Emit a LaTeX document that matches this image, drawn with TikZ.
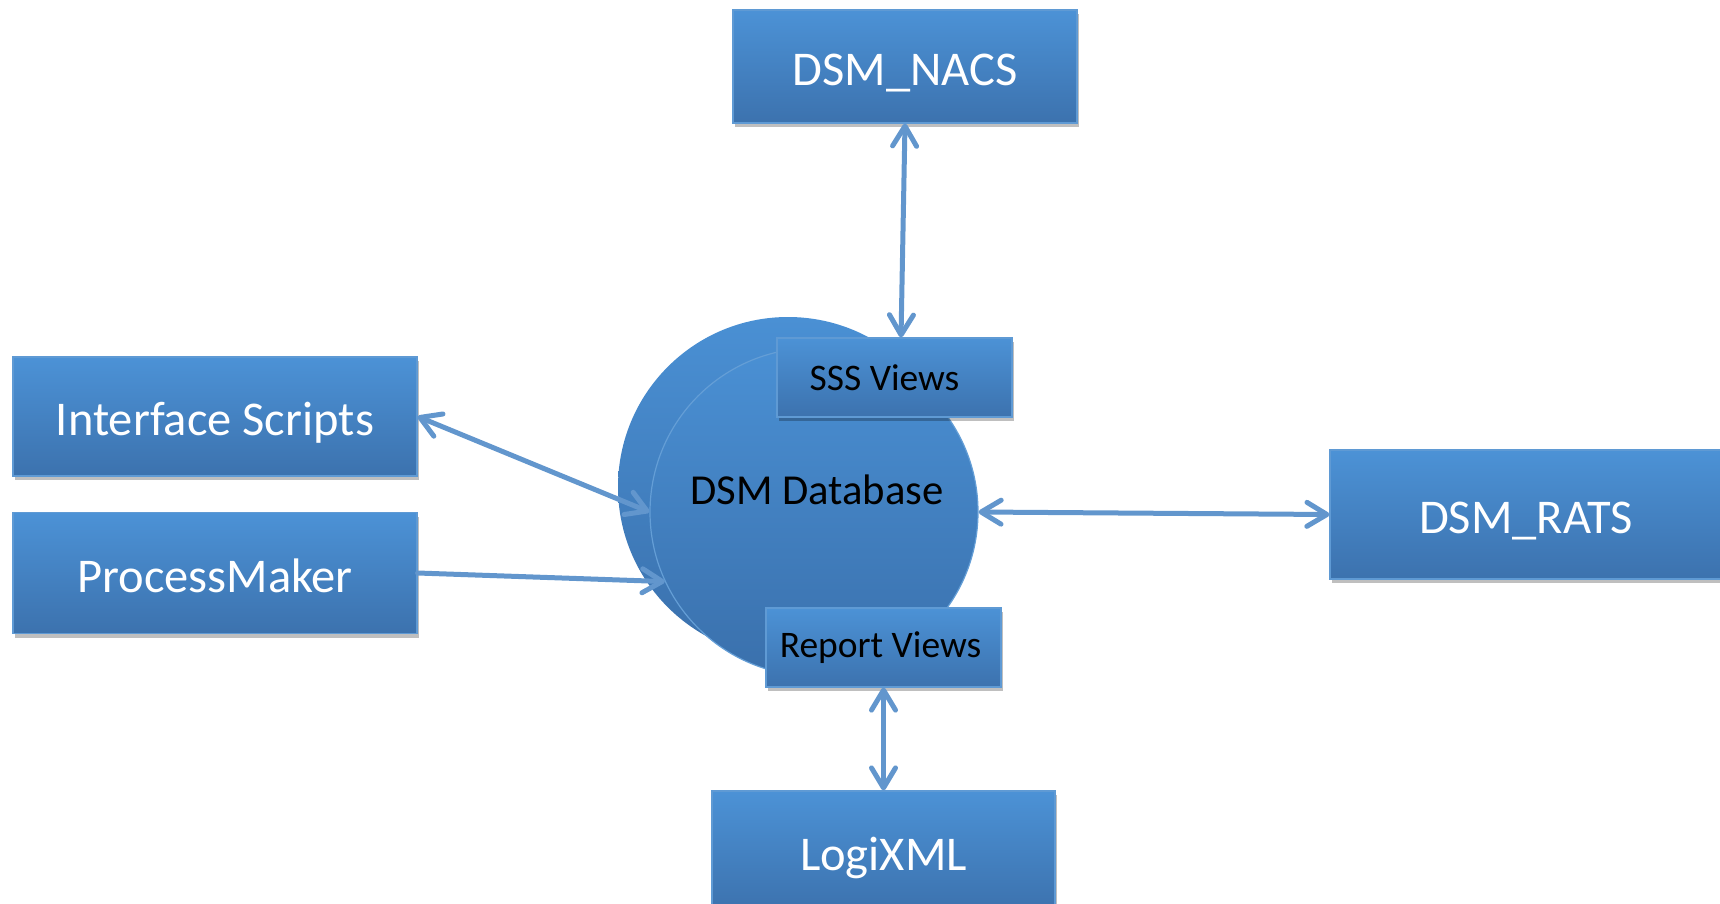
\documentclass[tikz,border=0pt]{standalone}
\usepackage{fontspec}
\setmainfont{Carlito}
\usetikzlibrary{arrows.meta,shadows,calc}
\definecolor{boxtop}{RGB}{76,146,214}
\definecolor{boxbot}{RGB}{60,114,174}
\definecolor{boxedge}{RGB}{95,154,212}
\definecolor{circtop}{RGB}{74,144,212}
\definecolor{circbot}{RGB}{58,112,172}
\definecolor{circedge}{RGB}{100,158,214}
\definecolor{arrowc}{RGB}{98,150,205}
\tikzset{
  bluebox/.style={rectangle, inner sep=0pt, top color=boxtop, bottom color=boxbot,
    draw=boxedge, line width=1.2pt,
    drop shadow={shadow xshift=1.5pt, shadow yshift=-4pt, fill=black, opacity=0.25}},
  bigtext/.style={text=white, font=\fontsize{48.5}{58}\selectfont, text height=38pt, text depth=0pt},
  smalltext/.style={text=black, font=\fontsize{37.5}{45}\selectfont},
  dbcircle/.style={circle, inner sep=0pt, top color=circtop, bottom color=circbot},
  link/.style={draw=arrowc, line width=5pt, line cap=round},
}
\begin{document}
\begin{tikzpicture}[x=1pt,y=-1pt,>={Straight Barb[length=20pt,width=24pt,round]}]
\useasboundingbox (0,0) rectangle (1720,904);

% database circles
\node[dbcircle, minimum size=340pt] (back) at (788,487) {};
\node[dbcircle, minimum size=328pt, draw=circedge, line width=1.2pt] (db) at (814,512) {};
\node[text=black, font=\fontsize{42.7}{51}\selectfont] (dblabel) at (817,490) {DSM Database};

% boxes
\node[bluebox, bigtext, minimum width=344pt, minimum height=113pt] (nacs) at (905,66.5) {DSM\_NACS};
\node[bluebox, bigtext, minimum width=404pt, minimum height=119pt] (iface) at (215,416.5) {Interface Scripts};
\node[bluebox, bigtext, minimum width=404pt, minimum height=121pt] (pm) at (215,573) {ProcessMaker};
\node[bluebox, bigtext, minimum width=392pt, minimum height=129pt] (rats) at (1526,514.5) {DSM\_RATS};
\node[bluebox, bigtext, minimum width=343pt, minimum height=120pt] (logi) at (883.5,851) {LogiXML};
\node[bluebox, smalltext, minimum width=235pt, minimum height=79pt] (sss) at (894.5,377.5) {\hspace*{-20pt}SSS Views};
\node[bluebox, smalltext, minimum width=235pt, minimum height=79pt] (rep) at (883.5,647.5) {\hspace*{-6pt}Report Views};

% connectors
\draw[link,<->] (nacs.south) -- ([xshift=6.5pt]sss.north);
\draw[link,<->] (iface.east) -- (db.west);
\draw[link,->] (pm.east) -- (db.205);
\draw[link,<->] (db.east) -- (rats.west);
\draw[link,<->] (rep.south) -- (logi.north);
\end{tikzpicture}
\end{document}
